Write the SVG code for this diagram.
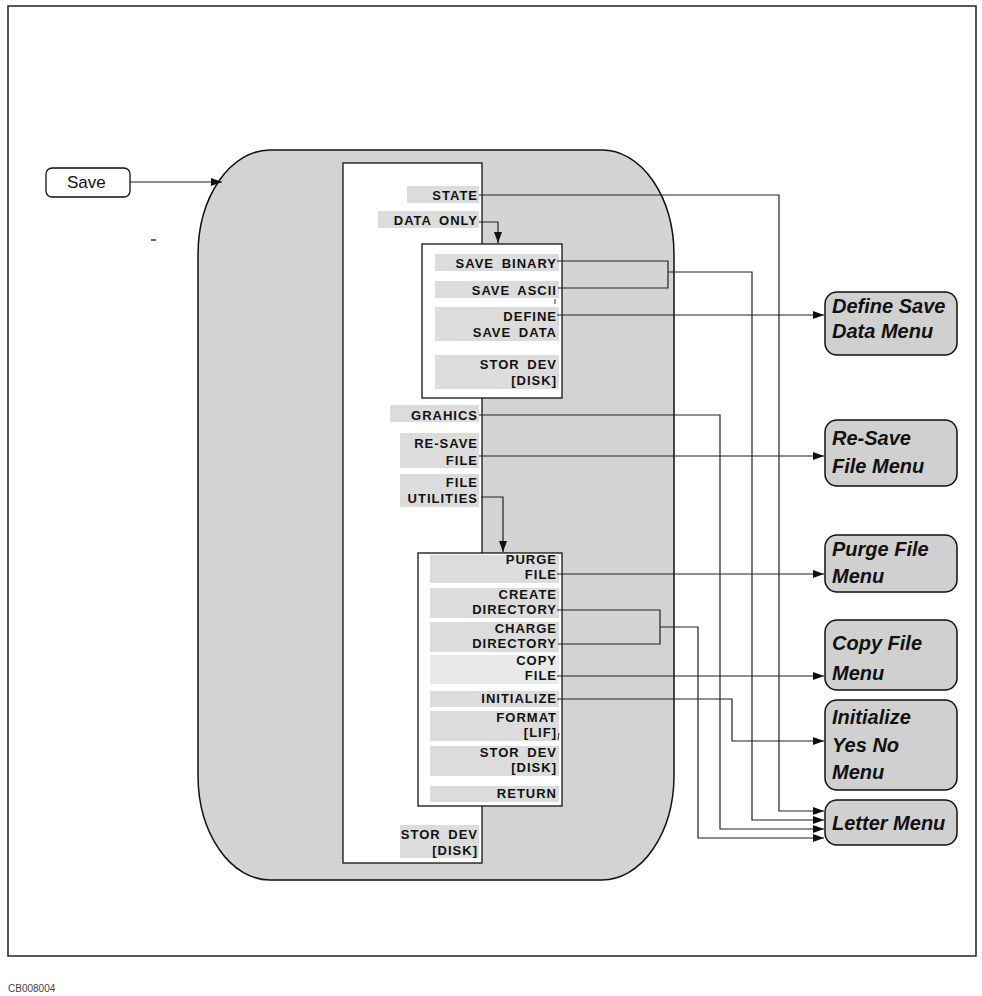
<svg xmlns="http://www.w3.org/2000/svg" width="982" height="996" viewBox="0 0 982 996">
<style>
.frame{fill:none;stroke:#222;stroke-width:1.5}
.panel{fill:#d3d3d3;stroke:#111;stroke-width:1.5}
.white{fill:#fff;stroke:#111;stroke-width:1.3}
.hl{fill:#dcdcdc}
.key{font-family:"Liberation Sans",Arial,sans-serif;font-weight:bold;font-size:13px;letter-spacing:1px;word-spacing:3px;fill:#111;text-anchor:end}
.menu{fill:#d0d0d0;stroke:#111;stroke-width:1.5}
.mt{font-family:"Liberation Sans",Arial,sans-serif;font-weight:bold;font-style:italic;font-size:20px;fill:#111}
.conn path{fill:none;stroke:#222;stroke-width:1.2}
</style>
<defs>
<marker id="ah" markerUnits="userSpaceOnUse" markerWidth="11" markerHeight="8" refX="11" refY="4" orient="auto">
<path d="M0,0 L11,4 L0,8 z" fill="#111"/>
</marker>
</defs>
<rect class="frame" x="8" y="6" width="968" height="950"/>
<text x="8" y="992" font-family="Liberation Sans, Arial, sans-serif" font-size="10" fill="#444">CB008004</text>
<line x1="151" y1="240" x2="156" y2="240" stroke="#333" stroke-width="1.5"/>

<g id="save">
<rect x="46" y="168" width="84" height="29" rx="6" fill="#fff" stroke="#111" stroke-width="1.3"/>
<text x="67" y="188" font-family="Liberation Sans, Arial, sans-serif" font-size="17" fill="#111">Save</text>
</g>

<g id="save-menu">
<rect class="panel" x="198" y="150" width="476" height="730" rx="72" ry="105"/>
<rect class="white" x="343" y="163" width="139" height="700"/>
<rect class="hl" x="407" y="186" width="72" height="17"/>
<text class="key" x="478" y="200">STATE</text>
<rect class="hl" x="378" y="211" width="101" height="17"/>
<text class="key" x="478" y="225">DATA ONLY</text>
<rect class="hl" x="390" y="405" width="89" height="17"/>
<text class="key" x="478" y="420">GRAHICS</text>
<rect class="hl" x="400" y="433" width="79" height="35"/>
<text class="key" x="478" y="448">RE-SAVE</text>
<text class="key" x="478" y="465">FILE</text>
<rect class="hl" x="400" y="474" width="79" height="33"/>
<text class="key" x="478" y="487">FILE</text>
<text class="key" x="478" y="503">UTILITIES</text>
<rect class="hl" x="400" y="825" width="79" height="33"/>
<text class="key" x="478" y="839">STOR DEV</text>
<text class="key" x="478" y="855">[DISK]</text>
</g>

<g id="data-only-menu">
<rect class="white" x="422" y="244" width="140" height="154"/>
<rect class="hl" x="435" y="254" width="124" height="17"/>
<text class="key" x="557" y="268">SAVE BINARY</text>
<rect class="hl" x="435" y="281" width="124" height="17"/>
<text class="key" x="557" y="295">SAVE ASCII</text>
<line x1="555" y1="299" x2="555" y2="304" stroke="#333" stroke-width="1"/>
<rect class="hl" x="435" y="307" width="124" height="34"/>
<text class="key" x="557" y="321">DEFINE</text>
<text class="key" x="557" y="337">SAVE DATA</text>
<rect class="hl" x="435" y="355" width="124" height="34"/>
<text class="key" x="557" y="369">STOR DEV</text>
<text class="key" x="557" y="385">[DISK]</text>
</g>

<g id="file-utilities-menu">
<rect class="white" x="418" y="553" width="144" height="253"/>
<rect class="hl" x="430" y="555" width="129" height="28"/>
<text class="key" x="557" y="564">PURGE</text>
<text class="key" x="557" y="579">FILE</text>
<rect class="hl" x="430" y="588" width="129" height="30"/>
<text class="key" x="557" y="599">CREATE</text>
<text class="key" x="557" y="614">DIRECTORY</text>
<rect class="hl" x="430" y="622" width="129" height="30"/>
<text class="key" x="557" y="633">CHARGE</text>
<text class="key" x="557" y="648">DIRECTORY</text>
<rect class="hl" x="430" y="655" width="129" height="29" opacity="0.6"/>
<text class="key" x="557" y="665">COPY</text>
<text class="key" x="557" y="680">FILE</text>
<rect class="hl" x="430" y="691" width="129" height="16"/>
<text class="key" x="557" y="703">INITIALIZE</text>
<rect class="hl" x="430" y="711" width="129" height="30"/>
<text class="key" x="557" y="722">FORMAT</text>
<text class="key" x="557" y="737">[LIF]</text>
<line x1="559" y1="733" x2="558" y2="740" stroke="#333" stroke-width="1"/>
<rect class="hl" x="430" y="746" width="129" height="30"/>
<text class="key" x="557" y="757">STOR DEV</text>
<text class="key" x="557" y="772">[DISK]</text>
<rect class="hl" x="430" y="786" width="129" height="16"/>
<text class="key" x="557" y="798">RETURN</text>
</g>

<g id="define-save-data-menu">
<rect class="menu" x="825" y="292" width="132" height="63" rx="12"/>
<text class="mt" x="832" y="313">Define Save</text>
<text class="mt" x="832" y="338">Data Menu</text>
</g>
<g id="re-save-file-menu">
<rect class="menu" x="825" y="420" width="132" height="66" rx="12"/>
<text class="mt" x="832" y="445">Re-Save</text>
<text class="mt" x="832" y="473">File Menu</text>
</g>
<g id="purge-file-menu">
<rect class="menu" x="825" y="535" width="132" height="57" rx="12"/>
<text class="mt" x="832" y="556">Purge File</text>
<text class="mt" x="832" y="583">Menu</text>
</g>
<g id="copy-file-menu">
<rect class="menu" x="825" y="620" width="132" height="70" rx="12"/>
<text class="mt" x="832" y="650">Copy File</text>
<text class="mt" x="832" y="680">Menu</text>
</g>
<g id="initialize-menu">
<rect class="menu" x="825" y="700" width="132" height="90" rx="12"/>
<text class="mt" x="832" y="724">Initialize</text>
<text class="mt" x="832" y="752">Yes No</text>
<text class="mt" x="832" y="779">Menu</text>
</g>
<g id="letter-menu">
<rect class="menu" x="825" y="800" width="132" height="45" rx="12"/>
<text class="mt" x="832" y="830">Letter Menu</text>
</g>

<g class="conn" id="connectors">
<path d="M130,182 H222" marker-end="url(#ah)"/>
<path d="M479,222 H498 V243" marker-end="url(#ah)"/>
<path d="M481,497 H503 V552" marker-end="url(#ah)"/>
<path d="M479,195 H779 V811 H824" marker-end="url(#ah)"/>
<path d="M557,261 H668 V288 H558"/>
<path d="M668,272 H752 V820 H824" marker-end="url(#ah)"/>
<path d="M557,315 H824" marker-end="url(#ah)"/>
<path d="M479,415 H720 V829 H824" marker-end="url(#ah)"/>
<path d="M479,456 H824" marker-end="url(#ah)"/>
<path d="M557,574 H824" marker-end="url(#ah)"/>
<path d="M557,610 H660 V644 H558"/>
<path d="M660,627 H698 V838 H824" marker-end="url(#ah)"/>
<path d="M557,676 H824" marker-end="url(#ah)"/>
<path d="M557,699 H732 V741 H824" marker-end="url(#ah)"/>
</g>
</svg>
